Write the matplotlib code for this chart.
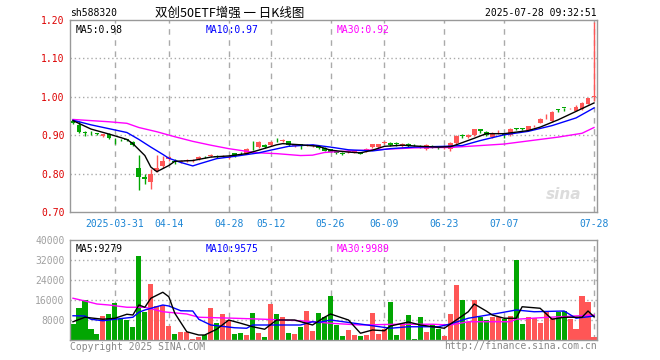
import matplotlib
matplotlib.use("Agg")
import matplotlib.pyplot as plt
import numpy as np
import pandas as pd

# trading days shown (SSE calendar, holidays removed)
holidays = ["2025-04-04", "2025-05-01", "2025-05-02", "2025-05-05", "2025-06-02"]
days = pd.bdate_range("2025-03-20", "2025-07-28")
days = days[~days.isin(pd.to_datetime(holidays))]

tick_dates = ["2025-03-31", "2025-04-14", "2025-04-28", "2025-05-12", "2025-05-26",
              "2025-06-09", "2025-06-23", "2025-07-07", "2025-07-28"]
tick_labels = ["2025-03-31", "04-14", "04-28", "05-12", "05-26", "06-09", "06-23", "07-07", "07-28"]

# daily candles
opens = [0.938, 0.926, 0.908, 0.907, 0.904, 0.898, 0.904, 0.888, 0.888, 0.889,
         0.882, 0.815, 0.790, 0.777, 0.808, 0.821, 0.838, 0.834, 0.829, 0.833,
         0.833, 0.839, 0.844, 0.846, 0.847, 0.845, 0.840, 0.853, 0.854, 0.852,
         0.875, 0.869, 0.874, 0.875, 0.888, 0.886, 0.884, 0.872, 0.876, 0.873,
         0.872, 0.871, 0.867, 0.863, 0.859, 0.853, 0.856, 0.855, 0.855, 0.859,
         0.869, 0.869, 0.880, 0.879, 0.878, 0.872, 0.878, 0.875, 0.873, 0.863,
         0.872, 0.868, 0.866, 0.863, 0.879, 0.899, 0.895, 0.900, 0.916, 0.909,
         0.896, 0.908, 0.902, 0.900, 0.918, 0.918, 0.914, 0.923, 0.933, 0.941,
         0.936, 0.967, 0.972, 0.970, 0.964, 0.967, 0.982, 1.000]
closes = [0.933, 0.909, 0.906, 0.905, 0.903, 0.902, 0.893, 0.887, 0.887, 0.888,
          0.875, 0.792, 0.786, 0.800, 0.815, 0.834, 0.842, 0.829, 0.832, 0.834,
          0.834, 0.843, 0.843, 0.847, 0.843, 0.846, 0.843, 0.845, 0.853, 0.865,
          0.874, 0.881, 0.869, 0.882, 0.887, 0.887, 0.874, 0.874, 0.871, 0.874,
          0.875, 0.867, 0.860, 0.857, 0.854, 0.852, 0.860, 0.858, 0.852, 0.865,
          0.876, 0.876, 0.881, 0.874, 0.877, 0.878, 0.871, 0.874, 0.871, 0.874,
          0.869, 0.867, 0.868, 0.879, 0.898, 0.898, 0.901, 0.916, 0.912, 0.900,
          0.907, 0.909, 0.901, 0.916, 0.917, 0.917, 0.923, 0.924, 0.942, 0.942,
          0.960, 0.966, 0.971, 0.971, 0.974, 0.984, 0.996, 1.002]
highs = [0.941, 0.938, 0.912, 0.910, 0.907, 0.904, 0.906, 0.893, 0.890, 0.891,
         0.884, 0.849, 0.800, 0.812, 0.849, 0.847, 0.846, 0.837, 0.835, 0.838,
         0.839, 0.845, 0.846, 0.850, 0.849, 0.849, 0.845, 0.854, 0.856, 0.867,
         0.885, 0.884, 0.876, 0.884, 0.892, 0.891, 0.886, 0.876, 0.878, 0.877,
         0.877, 0.873, 0.869, 0.865, 0.861, 0.856, 0.862, 0.860, 0.857, 0.867,
         0.878, 0.878, 0.886, 0.883, 0.881, 0.880, 0.880, 0.878, 0.875, 0.876,
         0.874, 0.870, 0.870, 0.881, 0.900, 0.902, 0.903, 0.917, 0.917, 0.910,
         0.909, 0.913, 0.904, 0.918, 0.920, 0.920, 0.925, 0.926, 0.944, 0.955,
         0.962, 0.969, 0.972, 0.972, 0.978, 0.986, 0.998, 1.195]
lows = [0.930, 0.906, 0.899, 0.900, 0.900, 0.896, 0.890, 0.878, 0.884, 0.885,
        0.872, 0.757, 0.772, 0.761, 0.803, 0.815, 0.832, 0.826, 0.827, 0.830,
        0.831, 0.836, 0.840, 0.842, 0.841, 0.842, 0.838, 0.844, 0.850, 0.850,
        0.862, 0.866, 0.867, 0.873, 0.882, 0.883, 0.872, 0.870, 0.865, 0.871,
        0.870, 0.865, 0.858, 0.855, 0.852, 0.848, 0.854, 0.853, 0.850, 0.857,
        0.867, 0.867, 0.877, 0.872, 0.873, 0.870, 0.869, 0.871, 0.866, 0.861,
        0.867, 0.864, 0.864, 0.860, 0.878, 0.893, 0.893, 0.899, 0.906, 0.899,
        0.894, 0.904, 0.893, 0.898, 0.914, 0.914, 0.912, 0.921, 0.931, 0.941,
        0.934, 0.961, 0.964, 0.968, 0.963, 0.965, 0.980, 0.988]

volumes = [6300, 12900, 16000, 4400, 2400, 9600, 10400, 14800, 8300, 8000,
           5200, 33600, 11200, 22400, 13600, 14000, 5600, 2400, 3300, 3300,
           400, 1300, 2000, 12900, 6700, 10400, 8000, 2400, 2700, 2000,
           10900, 2800, 1200, 14400, 10400, 9300, 2800, 2400, 5200, 11600,
           3600, 10800, 9200, 17600, 6000, 1600, 4000, 2000, 1600, 2000,
           10800, 2400, 4300, 15200, 2000, 6700, 10000, 400, 9200, 3200,
           6000, 4500, 1600, 10400, 22000, 16000, 7200, 16000, 9200, 8000,
           9200, 9200, 8400, 9600, 32000, 6400, 9200, 8800, 6800, 11200,
           8800, 11200, 11600, 8400, 4400, 17600, 15200, 1200]

# moving average lines (day index, value)
ma5_idx = [0, 3, 6, 9, 10, 12, 13, 14, 16, 17, 20, 23, 26, 29, 31, 34, 35, 38, 41, 43, 46, 48,
           50, 52, 55, 58, 61, 63, 64, 67, 69, 72, 76, 78, 81, 84, 87]
ma5_val = [0.938, 0.916, 0.903, 0.889, 0.878, 0.847, 0.817, 0.805, 0.821, 0.832, 0.834, 0.843,
           0.846, 0.852, 0.861, 0.875, 0.878, 0.875, 0.871, 0.861, 0.856, 0.854, 0.861, 0.871,
           0.874, 0.871, 0.869, 0.870, 0.875, 0.892, 0.904, 0.904, 0.912, 0.921, 0.940, 0.962, 0.984]
ma10_idx = [0, 3, 6, 9, 11, 13, 15, 16, 18, 20, 21, 24, 27, 31, 33, 36, 40, 43, 46, 50, 53, 57,
            62, 65, 68, 72, 76, 80, 84, 87]
ma10_val = [0.939, 0.927, 0.917, 0.907, 0.889, 0.869, 0.850, 0.840, 0.829, 0.820, 0.825, 0.839,
            0.845, 0.854, 0.861, 0.871, 0.875, 0.869, 0.862, 0.859, 0.865, 0.869, 0.871, 0.873,
            0.886, 0.901, 0.910, 0.925, 0.945, 0.971]
ma30_idx = [0, 6, 9, 11, 14, 17, 20, 23, 26, 29, 31, 34, 38, 40, 42, 46, 49, 53, 57, 61, 63, 67,
            72, 76, 81, 85, 87]
ma30_val = [0.941, 0.935, 0.931, 0.920, 0.909, 0.896, 0.884, 0.874, 0.865, 0.858, 0.854, 0.852,
            0.847, 0.848, 0.855, 0.859, 0.861, 0.864, 0.867, 0.868, 0.868, 0.872, 0.877, 0.885,
            0.895, 0.905, 0.920]

vma5_idx = [0, 2, 5, 7, 9, 10, 11, 12, 13, 15, 16, 17, 19, 21, 22, 24, 26, 28, 30, 32, 34, 37,
            40, 42, 43, 46, 48, 50, 52, 53, 56, 58, 62, 64, 66, 67, 69, 70, 72, 74, 75, 78, 80,
            82, 85, 86, 87]
vma5_val = [7300, 9100, 8300, 8700, 10300, 10000, 14000, 13100, 16700, 19100, 17300, 10700,
            3300, 2000, 2000, 4300, 8000, 6700, 5300, 4300, 8000, 8000, 6000, 9100, 10400, 8000,
            2700, 4000, 3700, 5600, 7200, 6000, 4700, 8000, 11300, 14400, 11600, 10000, 8700,
            8700, 13300, 12700, 8300, 9100, 9100, 11600, 9279]
vma10_idx = [0, 2, 3, 5, 7, 10, 11, 12, 15, 16, 18, 20, 21, 23, 27, 29, 30, 38, 40, 41, 43, 47,
             53, 56, 61, 63, 66, 71, 74, 77, 82, 84, 87]
vma10_val = [9700, 9600, 8300, 7700, 8300, 9100, 11100, 12000, 14000, 13600, 11700, 11600, 8300,
             6000, 4900, 4700, 6000, 6000, 7300, 7000, 8000, 6700, 4700, 5300, 5300, 6400, 8700,
             10700, 12000, 11300, 11600, 8700, 9575]
vma30_idx = [0, 2, 4, 6, 9, 12, 15, 19, 21, 27, 32, 38, 43, 48, 54, 60, 63, 66, 73, 74, 78, 87]
vma30_val = [16700, 15600, 14400, 14000, 13100, 13100, 11300, 10400, 9100, 8700, 8300, 7700,
             6700, 6000, 6300, 6300, 6000, 7300, 7300, 8300, 8900, 9989]

RED = "#ff5656"
GREEN = "#02a602"
GRID = "#aaaaaa"
MONO = "DejaVu Sans Mono"
W, H = 660, 360


def px_rect(left, top, right, bottom):
    return [left / W, 1 - bottom / H, (right - left) / W, (bottom - top) / H]


def style_axes(ax, tick_pos):
    for s in ax.spines.values():
        s.set_color("#999999")
        s.set_linewidth(1)
    ax.set_xlim(-0.5, len(days) - 0.5)
    ax.set_xticks(tick_pos)
    for x in tick_pos:
        ax.axvline(x, color=GRID, lw=1, ls=(0, (4, 4)), zorder=0)


x = np.arange(len(days))
tick_pos = [days.get_loc(pd.Timestamp(d)) for d in tick_dates]
up = np.array(closes) >= np.array(opens)
colors = [RED if u else GREEN for u in up]

fig = plt.figure(figsize=(6.6, 3.6), dpi=100)

# price panel
ax = fig.add_axes(px_rect(70, 20, 597, 212))
style_axes(ax, tick_pos)
ax.set_ylim(0.70, 1.20)
ax.set_yticks([0.70, 0.80, 0.90, 1.00, 1.10, 1.20])
ax.set_yticklabels([f"{v:.2f}" for v in [0.70, 0.80, 0.90, 1.00, 1.10, 1.20]],
                   fontfamily=MONO, fontsize=7, color="#dd0000")
for v in [0.80, 0.90, 1.00, 1.10]:
    ax.axhline(v, color=GRID, lw=1, ls=(0, (1, 2)), zorder=0)
ax.tick_params(axis="y", length=0, pad=4)
ax.tick_params(axis="x", direction="in", length=4, color=GRID, pad=5)
ax.set_xticklabels(tick_labels, fontfamily=MONO, fontsize=7, color="#1a84d4")

body = np.maximum(np.abs(np.array(closes) - np.array(opens)), 0.0015)
ax.vlines(x, lows, highs, colors=colors, lw=1, zorder=2)
ax.bar(x, body, bottom=np.minimum(opens, closes), width=0.8, color=colors, zorder=3)
ax.plot(ma30_idx, ma30_val, color="#ff00ff", lw=1, zorder=4)
ax.plot(ma10_idx, ma10_val, color="#0000ff", lw=1, zorder=4)
ax.plot(ma5_idx, ma5_val, color="black", lw=1, zorder=4)

ax.text(0.01, 0.975, "MA5:0.98", transform=ax.transAxes, fontfamily=MONO, fontsize=7,
        color="black", va="top")
ax.text(0.257, 0.975, "MA10:0.97", transform=ax.transAxes, fontfamily=MONO, fontsize=7,
        color="#0000ff", va="top")
ax.text(0.505, 0.975, "MA30:0.92", transform=ax.transAxes, fontfamily=MONO, fontsize=7,
        color="#ff00ff", va="top")
ax.text(0.97, 0.09, "sina", transform=ax.transAxes, fontsize=11, fontweight="bold",
        fontstyle="italic", color="#dcdcdc", ha="right", va="center", zorder=1)

# volume panel
axv = fig.add_axes(px_rect(70, 240, 597, 340))
style_axes(axv, tick_pos)
axv.set_ylim(0, 40000)
vt = [8000, 16000, 24000, 32000, 40000]
axv.set_yticks(vt)
axv.set_yticklabels([str(v) for v in vt], fontfamily=MONO, fontsize=7, color="#a0a0a0")
for v in vt[:-1]:
    axv.axhline(v, color=GRID, lw=1, ls=(0, (1, 2)), zorder=0)
axv.tick_params(axis="y", length=0, pad=4)
axv.tick_params(axis="x", length=0, labelbottom=False)
axv.bar(x, volumes, width=0.85, color=colors, zorder=2)
axv.plot(vma30_idx, vma30_val, color="#ff00ff", lw=1, zorder=4)
axv.plot(vma10_idx, vma10_val, color="#0000ff", lw=1, zorder=4)
axv.plot(vma5_idx, vma5_val, color="black", lw=1, zorder=4)
axv.text(0.01, 0.96, "MA5:9279", transform=axv.transAxes, fontfamily=MONO, fontsize=7,
         color="black", va="top")
axv.text(0.257, 0.96, "MA10:9575", transform=axv.transAxes, fontfamily=MONO, fontsize=7,
         color="#0000ff", va="top")
axv.text(0.505, 0.96, "MA30:9989", transform=axv.transAxes, fontfamily=MONO, fontsize=7,
         color="#ff00ff", va="top")

# header and footer
fig.text(70 / W, 1 - 13 / H, "sh588320", fontfamily=MONO, fontsize=7, color="black", va="center")
fig.text(230 / W, 1 - 13 / H, "双创50ETF增强 一 日K线图", family=["Noto Sans CJK SC", "DejaVu Sans"],
         fontsize=9, color="black", ha="center", va="center")
fig.text(597 / W, 1 - 13 / H, "2025-07-28 09:32:51", fontfamily=MONO, fontsize=7,
         color="black", ha="right", va="center")
fig.text(70 / W, 1 - 347 / H, "Copyright 2025 SINA.COM", fontfamily=MONO, fontsize=7,
         color="#888888", va="center")
fig.text(597 / W, 1 - 346 / H, "http://finance.sina.com.cn", fontfamily=MONO, fontsize=7,
         color="#888888", ha="right", va="center")

fig.savefig("out.png", dpi=100)
